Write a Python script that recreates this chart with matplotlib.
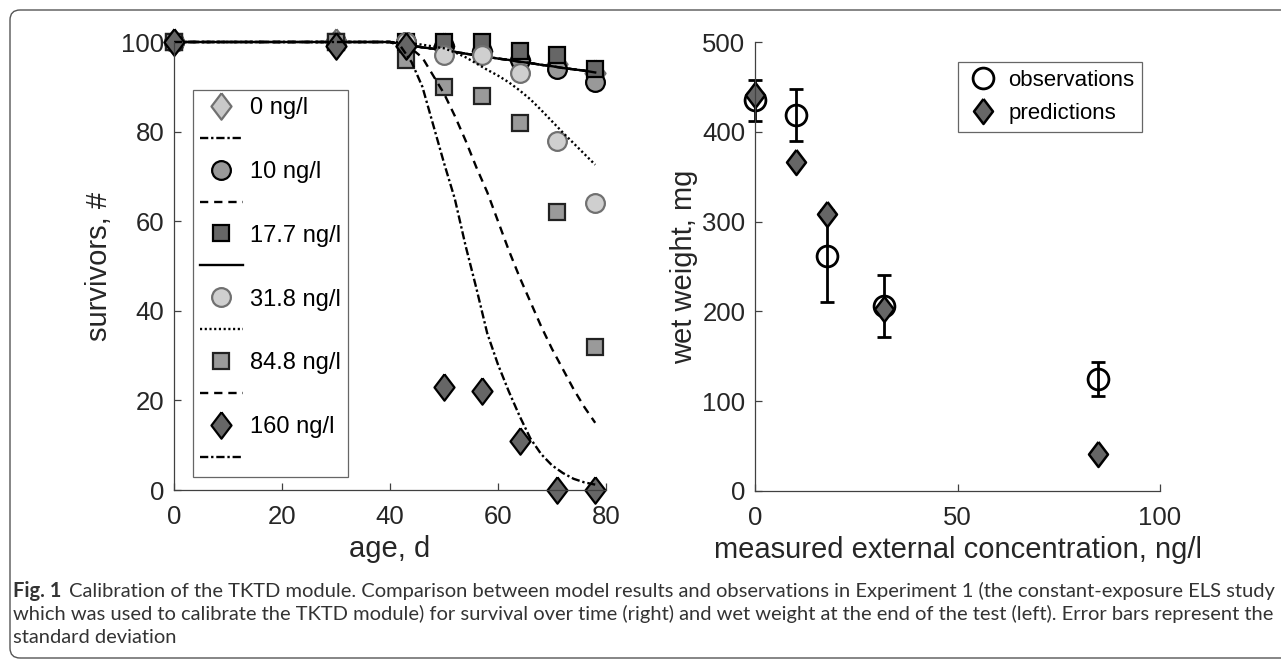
import matplotlib
matplotlib.use("Agg")
import matplotlib.pyplot as plt
from matplotlib.patches import FancyBboxPatch

plt.rcParams['font.family'] = ['Liberation Sans', 'DejaVu Sans']

# left panel: survivors over time, observations
days = [0, 30, 43, 50, 57, 64, 71, 78]
surv_0 = [100, 100, 99, 99, 98, 96, 95, 93]
surv_10 = [100, 100, 100, 99, 98, 96, 94, 91]
surv_17 = [100, 100, 100, 100, 100, 98, 97, 94]
surv_31 = [100, 100, 100, 97, 97, 93, 78, 64]
surv_84 = [100, 100, 96, 90, 88, 82, 62, 32]
surv_160 = [100, 99, 99, 23, 22, 11, 0, 0]

# left panel: model curves
model_days = [0, 38, 40, 42, 44, 46, 48, 50, 52, 54, 56, 58, 60, 62, 64, 66, 68, 70, 72, 74, 76, 78]
pred_0 = [100, 100, 100, 99.6, 99.2, 98.8, 98.5, 98.1, 97.8, 97.4, 97.0, 96.7, 96.3, 96.0, 95.6, 95.3, 94.9, 94.6, 94.2, 93.9, 93.6, 93.2]
pred_10 = [100, 100, 100, 99.6, 99.2, 98.8, 98.5, 98.1, 97.8, 97.4, 97.0, 96.7, 96.3, 96.0, 95.6, 95.3, 94.9, 94.6, 94.2, 93.9, 93.6, 93.2]
pred_17 = [100, 100, 100, 99.6, 99.2, 98.8, 98.5, 98.1, 97.8, 97.4, 97.0, 96.7, 96.3, 96.0, 95.6, 95.3, 94.9, 94.6, 94.2, 93.9, 93.6, 93.2]
pred_31 = [100, 100, 100, 99.9, 99.7, 99.4, 99.0, 98.6, 97.7, 96.6, 95.2, 93.8, 92.5, 91.0, 89.2, 87.2, 84.8, 82.3, 79.8, 77.4, 75.0, 72.6]
pred_84 = [100, 100, 100, 99.5, 98.5, 96.5, 92.5, 88.5, 83.5, 78, 72, 66.5, 60, 53.5, 47.5, 42, 36.5, 31.5, 27, 22.5, 18.5, 15]
pred_160 = [100, 100, 100, 99, 95.5, 90, 81.5, 73, 65, 54.5, 45, 35, 28, 22, 16.5, 11.5, 8, 5.5, 3.8, 2.5, 1.7, 1.2]

conc_labels = ['0 ng/l', '10 ng/l', '17.7 ng/l', '31.8 ng/l', '84.8 ng/l', '160 ng/l']

# right panel: wet weight at end of test
conc = [0, 10, 17.7, 31.8, 84.8]
obs_weight = [435, 419, 262, 206, 125]
obs_sd = [23, 29, 51, 34, 19]
pred_weight = [441, 366, 308, 203, 41]

W, H = 1281, 661
fig = plt.figure(figsize=(W / 100, H / 100), dpi=100)

# rounded frame around figure + caption
frame = FancyBboxPatch((0.10, 0.03), 12.9, 6.48, boxstyle='round,pad=0,rounding_size=0.1',
                       transform=fig.dpi_scale_trans, fill=False, edgecolor='#555555', linewidth=1.0)
fig.patches.append(frame)

diamond = [(0, 1), (0.76, 0), (0, -1), (-0.76, 0), (0, 1)]
axcol = '#404040'
txtcol = '#262626'


def style_axes(ax):
    for side in ['top', 'right']:
        ax.spines[side].set_visible(False)
    for side in ['left', 'bottom']:
        ax.spines[side].set_color(axcol)
        ax.spines[side].set_linewidth(0.9)
    ax.tick_params(direction='in', length=5, width=0.9, color=axcol, labelcolor=txtcol,
                   labelsize=18.5)
    ax.tick_params(axis='x', pad=11)
    ax.tick_params(axis='y', pad=7)


ax1 = fig.add_axes([174 / W, 1 - 490 / H, (606 - 174) / W, (490 - 42) / H])
series = [
    (surv_0, pred_0, diamond, 19, '#c8c8c8', '#707070', (0, (3.5, 1.2, 1, 1.2))),
    (surv_10, pred_10, 'o', 13.5, '#999999', 'black', (0, (3.5, 2.5))),
    (surv_17, pred_17, 's', 11.5, '#666666', 'black', '-'),
    (surv_31, pred_31, 'o', 13.5, '#cfcfcf', '#707070', (0, (0.9, 1.1))),
    (surv_84, pred_84, 's', 11.5, '#9a9a9a', '#222222', (0, (3.5, 2.5))),
    (surv_160, pred_160, diamond, 19, '#666666', 'black', (0, (3.5, 1.2, 1, 1.2))),
]
handles = []
labels = []
for (obs, pred, mk, ms, fc, ec, ls), lab in zip(series, conc_labels):
    m, = ax1.plot(days, obs, linestyle='none', marker=mk, markersize=ms,
                  markerfacecolor=fc, markeredgecolor=ec, markeredgewidth=1.6, clip_on=False)
    l, = ax1.plot(model_days, pred, color='black', linestyle=ls, linewidth=1.7, clip_on=False)
    handles += [m, l]
    labels += [lab, ' ']

ax1.set_xlim(0, 80)
ax1.set_ylim(0, 100)
ax1.set_xticks([0, 20, 40, 60, 80])
ax1.set_yticks([0, 20, 40, 60, 80, 100])
style_axes(ax1)
ax1.set_xlabel('age, d', fontsize=21, color=txtcol, labelpad=4)
ax1.set_ylabel('survivors, #', fontsize=21, color=txtcol)
ax1.yaxis.set_label_coords(-0.141, 0.5)
leg1 = ax1.legend(handles, labels, loc='upper left', bbox_to_anchor=(0.044, 0.893),
                  fontsize=17, frameon=True, fancybox=False, handlelength=1.8,
                  handletextpad=0.3, labelspacing=0.42, borderpad=0.3, borderaxespad=0)
leg1.get_frame().set_edgecolor(axcol)
leg1.get_frame().set_linewidth(0.9)
leg1.set_zorder(5)

ax2 = fig.add_axes([755 / W, 1 - 491 / H, (1160 - 755) / W, (491 - 42) / H])
ax2.errorbar(conc, obs_weight, yerr=obs_sd, linestyle='none', color='black', elinewidth=2,
             capsize=5, capthick=2, clip_on=False)
h_obs, = ax2.plot(conc, obs_weight, linestyle='none', marker='o', markersize=15,
                  markerfacecolor='none', markeredgecolor='black', markeredgewidth=2, clip_on=False)
h_pred, = ax2.plot(conc, pred_weight, linestyle='none', marker=diamond, markersize=18,
                   markerfacecolor='#666666', markeredgecolor='black', markeredgewidth=1.8,
                   clip_on=False)
ax2.set_xlim(0, 100)
ax2.set_ylim(0, 500)
ax2.set_xticks([0, 50, 100])
ax2.set_yticks([0, 100, 200, 300, 400, 500])
style_axes(ax2)
ax2.set_xlabel('measured external concentration, ng/l', fontsize=21, color=txtcol, labelpad=4)
ax2.set_ylabel('wet weight, mg', fontsize=21, color=txtcol)
ax2.yaxis.set_label_coords(-0.141, 0.5)
leg2 = ax2.legend([h_obs, h_pred], ['observations', 'predictions'], loc='upper right',
                  bbox_to_anchor=(0.956, 0.955), fontsize=16, frameon=True, fancybox=False,
                  handlelength=1.5, handletextpad=0.4, labelspacing=0.55, borderpad=0.35,
                  borderaxespad=0)
leg2.get_frame().set_edgecolor(axcol)
leg2.get_frame().set_linewidth(0.9)

# caption
cap_font = ['Lato', 'DejaVu Sans']
cap_size = 14.5
capcol = '#333333'
line1 = ('Calibration of the TKTD module. Comparison between model results and observations '
         'in Experiment 1 (the constant-exposure ELS study')
line2 = ('which was used to calibrate the TKTD module) for survival over time (right) and wet '
         'weight at the end of the test (left). Error bars represent the')
line3 = 'standard deviation'
x0 = 13 / W
tb = fig.text(x0, 1 - 597 / H, 'Fig. 1', fontsize=cap_size, fontweight='bold', family=cap_font,
              color=capcol, va='baseline')
fig.canvas.draw()
bb = tb.get_window_extent()
fig.text((bb.x1 + 8) / W, 1 - 597 / H, line1, fontsize=cap_size, family=cap_font,
         color=capcol, va='baseline')
fig.text(x0, 1 - 620 / H, line2, fontsize=cap_size, family=cap_font, color=capcol,
         va='baseline')
fig.text(x0, 1 - 643 / H, line3, fontsize=cap_size, family=cap_font, color=capcol,
         va='baseline')

fig.savefig('out.png', dpi=100)
